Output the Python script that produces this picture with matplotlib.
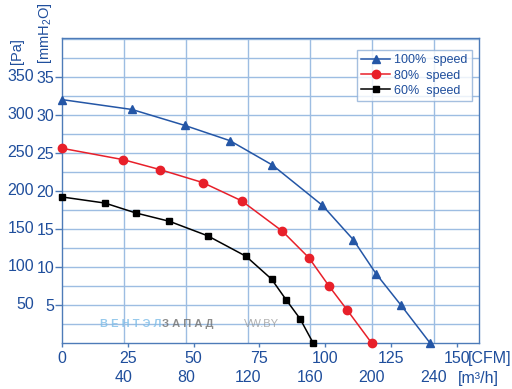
import numpy as np
import matplotlib
matplotlib.use('Agg')
import matplotlib.pyplot as plt
import matplotlib.transforms as mtransforms

plt.rcParams['font.family'] = ['Liberation Sans', 'DejaVu Sans']

# fan curves, flow in CFM, static pressure in Pa
cfm_100 = [0, 26.6, 46.7, 63.8, 79.9, 98.9, 110.6, 119.3, 128.7, 139.8]
pa_100 = [320, 307, 286, 266, 234, 181, 136, 91, 50, 0]

cfm_80 = [0, 23.3, 37.2, 53.4, 68.2, 83.7, 93.8, 101.4, 108.4, 117.6]
pa_80 = [256, 241, 228, 211, 187, 147, 112, 75, 43, 0]

cfm_60 = [0, 16.3, 28, 40.8, 55.3, 69.9, 79.6, 85.1, 90.4, 95.4]
pa_60 = [192, 184, 171, 160, 141, 114, 84, 57, 32, 0]

pa_ticks = [50, 100, 150, 200, 250, 300, 350]
mm_labels = ['5', '10', '15', '20', '25', '30', '35']
cfm_ticks = [0, 25, 50, 75, 100, 125, 150]
m3h_ticks = [40, 80, 120, 160, 200, 240]
CFM_TO_M3H = 1.7

txt_blue = '#1f4e9c'
grid_c = '#9dbde2'
spine_c = '#4d7bb8'
fs = 11.5

fig = plt.figure(figsize=(5.12, 3.89), dpi=100)
ax = fig.add_axes([62 / 512, 46 / 389, 417 / 512, 305 / 389])
ax.set_xlim(0, 158.4)
ax.set_ylim(0, 401)

# grid: horizontal every 25 Pa, vertical on the m3/h scale
for y in np.arange(25, 401, 25):
    ax.axhline(y, color=grid_c, lw=1.0, zorder=1)
for m in m3h_ticks:
    ax.axvline(m / CFM_TO_M3H, color=grid_c, lw=1.0, zorder=1)

for s in ax.spines.values():
    s.set_color(spine_c)
    s.set_linewidth(1.0)

ax.plot(cfm_100, pa_100, color='#2456a6', lw=1.1, marker='^', ms=6, zorder=3,
        label='100%  speed', clip_on=False)
ax.plot(cfm_80, pa_80, color='#e8202a', lw=1.1, marker='o', ms=6, zorder=3,
        label='80%  speed', clip_on=False)
ax.plot(cfm_60, pa_60, color='black', lw=1.1, marker='s', ms=4.5, zorder=3,
        label='60%  speed', clip_on=False)

# left axis: mmH2O labels on ticks, Pa labels further out
ax.set_yticks(pa_ticks)
ax.set_yticklabels(mm_labels)
ax.tick_params(axis='y', direction='out', length=5, width=1, color=spine_c,
               labelcolor=txt_blue, labelsize=fs, pad=0.5)
trans_y = mtransforms.blended_transform_factory(ax.transAxes, ax.transData)
for p in pa_ticks:
    ax.text(-28 / 417, p, str(p), transform=trans_y, ha='right', va='center',
            color=txt_blue, fontsize=fs)

ax.set_xticks(cfm_ticks)
ax.set_xticklabels([str(c) for c in cfm_ticks])
ax.tick_params(axis='x', direction='out', length=3, width=1, color=spine_c,
               labelcolor=txt_blue, labelsize=fs, pad=3)
trans_x = mtransforms.blended_transform_factory(ax.transData, ax.transAxes)
for m in m3h_ticks:
    ax.text(m / CFM_TO_M3H, -35 / 305, str(m), transform=trans_x, ha='center',
            va='center', color=txt_blue, fontsize=fs)

fig.text(468 / 512, 1 - 359 / 389, '[CFM]', ha='left', va='center',
         color=txt_blue, fontsize=fs)
fig.text(458 / 512, 1 - 378 / 389, '[m³/h]', ha='left', va='center',
         color=txt_blue, fontsize=fs)
fig.text(17 / 512, 1 - 64 / 389, '[Pa]', rotation=90, ha='center', va='bottom',
         color=txt_blue, fontsize=10.5)
fig.text(45 / 512, 1 - 64 / 389, r'[mmH$\mathregular{_2}$O]', rotation=90,
         ha='center', va='bottom', color=txt_blue, fontsize=10.5)

leg = ax.legend(loc='upper left', bbox_to_anchor=((357 - 62) / 417, 1 - 12 / 305),
                fontsize=9, frameon=True, fancybox=False, borderpad=0.35,
                handlelength=2.3, handletextpad=0.3, labelspacing=0.25,
                borderaxespad=0)
leg.get_frame().set_edgecolor('#8fb0d8')
leg.get_frame().set_linewidth(1.0)
for t in leg.get_texts():
    t.set_color(txt_blue)

# watermark
fig.text(100 / 512, 1 - 324 / 389, 'В Е Н Т Э Л', color='#7fbde8', fontsize=8,
         ha='left', va='center', fontweight='bold', alpha=0.8)
fig.text(162 / 512, 1 - 324 / 389, 'З А П А Д', color='#707070', fontsize=8,
         ha='left', va='center', fontweight='bold', alpha=0.8)
fig.text(244 / 512, 1 - 324 / 389, 'VW.BY', color='#909090', fontsize=8,
         ha='left', va='center', alpha=0.7)

fig.savefig('out.png', dpi=100)
